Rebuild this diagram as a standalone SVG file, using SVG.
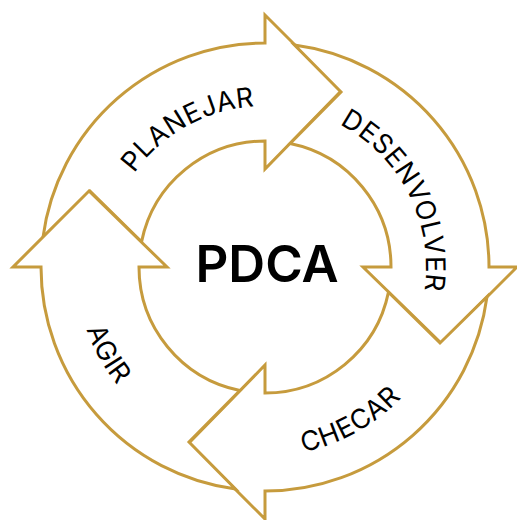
<svg xmlns="http://www.w3.org/2000/svg" width="517" height="520" viewBox="0 0 517 520">
  <style>
    .arrow { fill: #ffffff; stroke: #C69B3D; stroke-width: 3; stroke-linejoin: miter; stroke-miterlimit: 10; }
    .lbl { font-family: Inter, Lato, "Liberation Sans", sans-serif; font-size: 27px; font-weight: 400; letter-spacing: 0.5px; fill: #000000; }
    .title { font-family: Inter, Lato, "Liberation Sans", sans-serif; font-size: 51px; font-weight: 600; fill: #000000; }
  </style>
  <defs>
    <path id="arrowShape" d="M42.96,237.43 A224,224 0 0 1 265,43 L265,15 L341,91 L265,169 L265,141 A126,126 0 0 0 141.53,241.86 L90,191 Z"/>
    <path id="pPlan" d="M104.02,264.19 A161,161 0 0 1 347.92,129.00"/>
    <path id="pDes" d="M273.43,106.22 A161,161 0 0 1 400.03,354.69"/>
    <path id="pChe" d="M167.66,429.01 A189,189 0 0 0 453.97,270.30"/>
    <path id="pAgi" d="M102.99,169.66 A189,189 0 0 0 261.70,455.97"/>
  </defs>
  <g id="connectors"></g>
  <g id="planejar">
    <use href="#arrowShape" class="arrow"/>
    <text class="lbl"><textPath href="#pPlan" startOffset="50%" text-anchor="middle">PLANEJAR</textPath></text>
  </g>
  <g id="desenvolver">
    <use href="#arrowShape" class="arrow" transform="rotate(90 265 267)"/>
    <text class="lbl"><textPath href="#pDes" startOffset="50%" text-anchor="middle">DESENVOLVER</textPath></text>
  </g>
  <g id="checar">
    <use href="#arrowShape" class="arrow" transform="rotate(180 265 267)"/>
    <text class="lbl"><textPath href="#pChe" startOffset="50%" text-anchor="middle">CHECAR</textPath></text>
  </g>
  <g id="agir">
    <use href="#arrowShape" class="arrow" transform="rotate(270 265 267)"/>
    <text class="lbl"><textPath href="#pAgi" startOffset="50%" text-anchor="middle">AGIR</textPath></text>
  </g>
  <g id="pdca">
    <text class="title" x="267" y="282" text-anchor="middle">PDCA</text>
  </g>
</svg>
